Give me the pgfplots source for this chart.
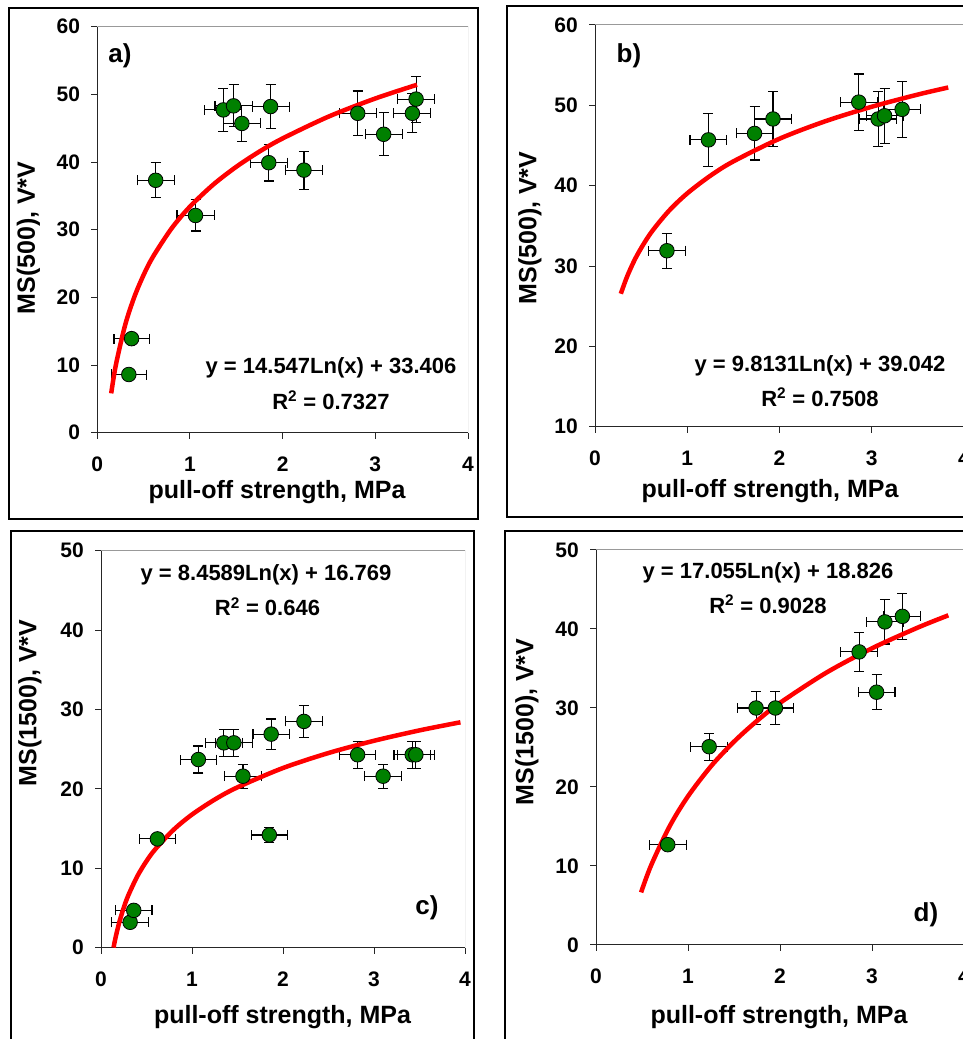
\documentclass[border=0pt]{standalone}
\usepackage{pgfplots}
\pgfplotsset{compat=1.18}
\usepackage{fontspec}
\setmainfont{Liberation Sans}
\definecolor{mkgreen}{RGB}{0,128,0}
\begin{document}
\begin{tikzpicture}[x=1pt,y=1pt]
\useasboundingbox (0,0) rectangle (963,1039);
\clip (0,0) rectangle (963,1039);
\pgfplotsset{
  panel/.style={
    scale only axis,
    anchor=south west,
    xmin=0,xmax=4, xtick={0,1,2,3,4},
    axis x line*=bottom, axis y line*=left,
    axis line style={black!85, line width=1pt},
    tick align=outside, major tick length=6pt,
    tick style={black!85, line width=1pt},
    ticklabel style={font=\fontsize{21}{21}\selectfont\bfseries, inner sep=0pt},
    /pgf/number format/assume math mode=true,
    xticklabel style={yshift=-18pt},
    yticklabel style={xshift=-11pt},
  },
  pts/.style={only marks, mark=*, mark size=7.3pt,
    mark options={fill=mkgreen, draw=black, line width=0.8pt},
    error bars/.cd, x dir=both, x explicit, y dir=both, y explicit,
    error bar style={black, line width=1.1pt},
    error mark options={rotate=90, black, mark size=5pt, line width=1.1pt}},
  fit/.style={red, line width=4.5pt, smooth, no marks},
}
% ---------------- a ----------------
\begin{axis}[panel, at={(97.3pt,606.3pt)}, width=370.7pt, height=406pt,
  ymin=0, ymax=60, ytick={0,10,20,30,40,50,60}]
\addplot+[pts] table[x=x,y=y,x error=ex,y error=ey]{
x y ex ey
0.34 8.6 0.19 0.4
0.37 13.9 0.19 0.5
0.63 37.3 0.2 2.6
1.06 32.1 0.2 2.3
1.36 47.7 0.2 3.2
1.47 48.3 0.2 3.1
1.56 45.7 0.2 2.7
1.87 48.2 0.2 3.3
1.85 39.9 0.2 2.7
2.23 38.8 0.2 2.8
2.81 47.2 0.2 3.3
3.09 44.1 0.2 3.2
3.40 47.2 0.2 2.9
3.44 49.3 0.2 3.4
};
\addplot[fit] coordinates {(0.15,5.81)(0.2,9.99)(0.3,15.89)(0.4,20.08)(0.5,23.32)(0.6,25.98)(0.8,30.16)(1.0,33.41)(1.25,36.65)(1.5,39.30)(1.75,41.55)(2.0,43.49)(2.5,46.74)(3.0,49.39)(3.45,51.42)};
\draw[black!40, line width=1pt] (rel axis cs:0,1) -- (rel axis cs:1,1) -- (rel axis cs:1,0);
\end{axis}
% ---------------- b ----------------
\begin{axis}[panel, at={(595pt,612.3pt)}, width=368.9pt, height=401.7pt,
  ymin=10, ymax=60, ytick={10,20,30,40,50,60}]
\addplot+[pts] table[x=x,y=y,x error=ex,y error=ey]{
x y ex ey
0.78 31.9 0.2 2.2
1.23 45.7 0.2 3.3
1.73 46.5 0.2 3.3
1.93 48.3 0.2 3.4
2.86 50.4 0.2 3.5
3.07 48.3 0.2 3.4
3.14 48.7 0.2 3.4
3.33 49.5 0.2 3.5
};
\addplot[fit] coordinates {(0.28,26.55)(0.35,28.74)(0.45,31.21)(0.6,34.03)(0.8,36.85)(1.0,39.04)(1.25,41.23)(1.5,43.02)(2.0,45.84)(2.5,48.03)(3.0,49.82)(3.5,51.34)(3.83,52.22)};
\draw[black!40, line width=1pt] (rel axis cs:0,1) -- (rel axis cs:1,1) -- (rel axis cs:1,0);
\end{axis}
% ---------------- c ----------------
\begin{axis}[panel, at={(101pt,91.3pt)}, width=364pt, height=397pt,
  ymin=0, ymax=50, ytick={0,10,20,30,40,50}]
\addplot+[pts] table[x=x,y=y,x error=ex,y error=ey]{
x y ex ey
0.32 3.2 0.2 0.3
0.36 4.7 0.2 0.3
0.62 13.7 0.2 0.4
1.07 23.7 0.2 1.7
1.35 25.8 0.2 1.7
1.46 25.8 0.2 1.7
1.56 21.6 0.2 1.5
1.87 26.9 0.2 1.9
1.85 14.2 0.2 0.9
2.23 28.5 0.2 2.0
2.82 24.3 0.2 1.7
3.10 21.6 0.2 1.5
3.42 24.3 0.2 1.7
3.46 24.3 0.2 1.7
};
\addplot[fit] coordinates {(0.138,0.02)(0.16,1.27)(0.2,3.16)(0.25,5.04)(0.3,6.59)(0.4,9.02)(0.5,10.91)(0.6,12.45)(0.8,14.88)(1.0,16.77)(1.25,18.66)(1.5,20.20)(2.0,22.63)(2.5,24.52)(3.0,26.06)(3.5,27.37)(3.95,28.39)};
\draw[black!40, line width=1pt] (rel axis cs:0,1) -- (rel axis cs:1,1) -- (rel axis cs:1,0);
\end{axis}
% ---------------- d ----------------
\begin{axis}[panel, at={(596pt,94pt)}, width=368pt, height=395pt,
  ymin=0, ymax=50, ytick={0,10,20,30,40,50}]
\addplot+[pts] table[x=x,y=y,x error=ex,y error=ey]{
x y ex ey
0.78 12.7 0.2 0.5
1.23 25.1 0.2 1.7
1.74 30.0 0.2 2.1
1.95 30.0 0.2 2.1
2.86 37.1 0.2 2.5
3.05 32.0 0.2 2.2
3.14 40.9 0.2 2.8
3.33 41.6 0.2 2.9
};
\addplot[fit] coordinates {(0.49,6.66)(0.6,10.11)(0.8,15.02)(1.0,18.83)(1.25,22.63)(1.5,25.74)(1.75,28.37)(2.0,30.65)(2.5,34.45)(3.0,37.56)(3.5,40.19)(3.83,41.73)};
\draw[black!40, line width=1pt] (rel axis cs:0,1) -- (rel axis cs:1,1) -- (rel axis cs:1,0);
\end{axis}
% ---------------- frames ----------------
\draw[black, line width=1.3pt] (9,520) rectangle (478,1031);
\draw[black, line width=1.3pt] (507,522) rectangle (975,1033);
\draw[black, line width=1.3pt] (11,-10) rectangle (474,508);
\draw[black, line width=1.3pt] (505,-10) rectangle (975,508);
% ---------------- texts ----------------
\tikzset{lab/.style={font=\fontsize{25}{25}\selectfont\bfseries, inner sep=0pt},
         eq/.style={font=\fontsize{22}{22}\selectfont\bfseries, inner sep=0pt},
         let/.style={font=\fontsize{26}{26}\selectfont\bfseries, inner sep=0pt}}
% a
\node[let] at (120,983) {a)};
\node[eq] at (331,671) {y = 14.547Ln(x) + 33.406};
\node[eq] at (331,639) {R\textsuperscript{2} = 0.7327};
\node[lab, rotate=90] at (28.5,801) {MS(500), V*V};
\node[lab] at (277,547) {pull-off strength, MPa};
% b
\node[let] at (629,983) {b)};
\node[eq] at (820,673) {y = 9.8131Ln(x) + 39.042};
\node[eq] at (820,642) {R\textsuperscript{2} = 0.7508};
\node[lab, rotate=90] at (530,811) {MS(500), V*V};
\node[lab] at (770,548) {pull-off strength, MPa};
% c
\node[eq] at (266,464) {y = 8.4589Ln(x) + 16.769};
\node[eq] at (267.5,432.5) {R\textsuperscript{2} = 0.646};
\node[let] at (427,131) {c)};
\node[lab, rotate=90] at (30,336) {MS(1500), V*V};
\node[lab] at (282.5,22) {pull-off strength, MPa};
% d
\node[eq] at (768,466) {y = 17.055Ln(x) + 18.826};
\node[eq] at (768,435) {R\textsuperscript{2} = 0.9028};
\node[let] at (926,124) {d)};
\node[lab, rotate=90] at (527,317) {MS(1500), V*V};
\node[lab] at (779,22) {pull-off strength, MPa};
\end{tikzpicture}
\end{document}
